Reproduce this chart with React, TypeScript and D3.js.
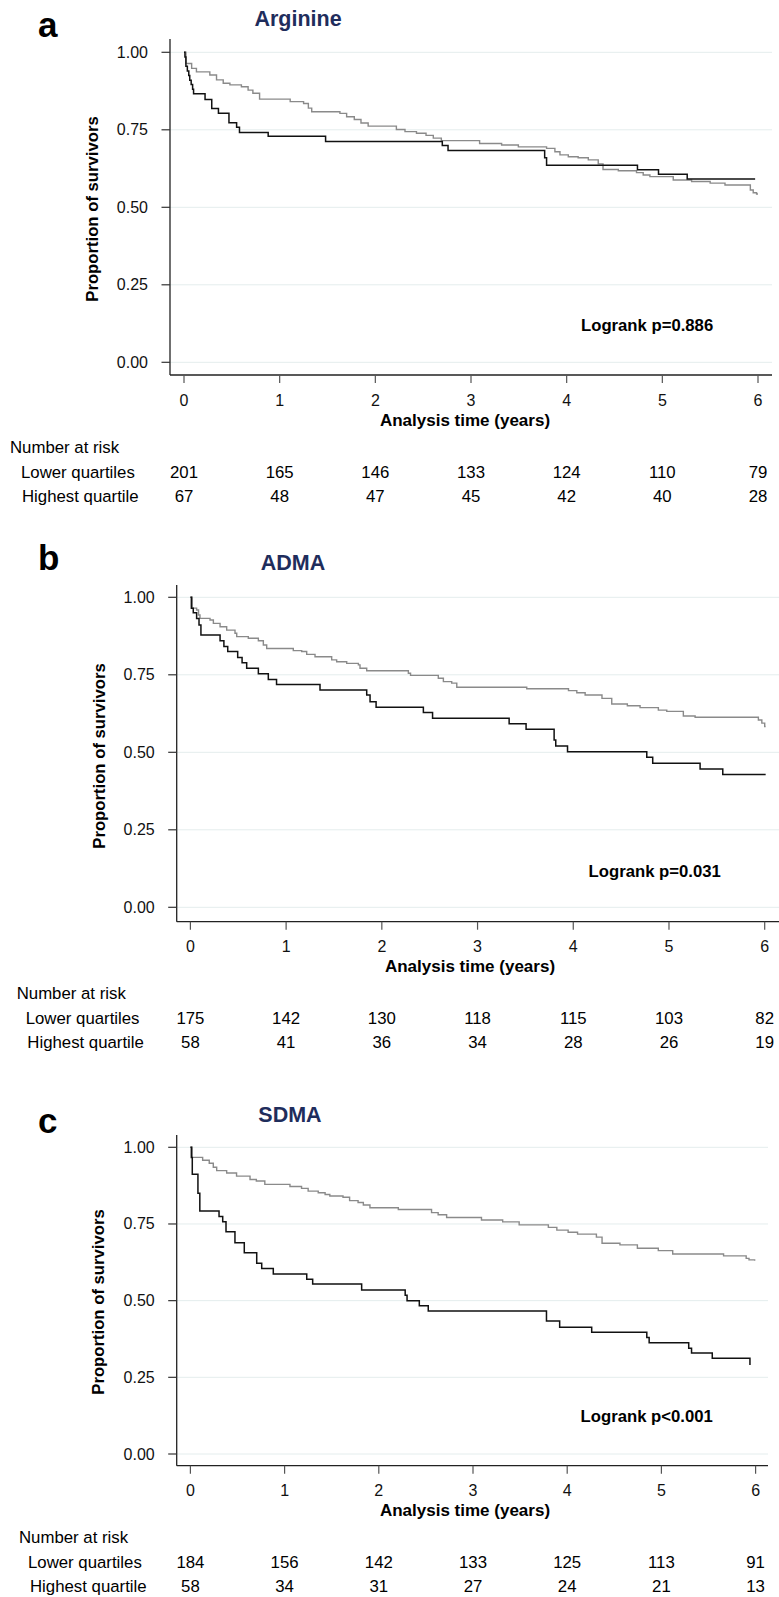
import React, { useRef, useEffect } from 'react';
import * as d3 from 'd3';

type Pt = [number, number];

// shared axis values
const years = [0, 1, 2, 3, 4, 5, 6];
const survTicks = [0, 0.25, 0.5, 0.75, 1];
const riskRowLabels = ['Lower quartiles', 'Highest quartile'];

// Arginine (time in years, survival after each drop)
const argLower: Pt[] = [[0, 1], [0.02, 0.964], [0.08, 0.948], [0.13, 0.937], [0.27, 0.927], [0.34, 0.911], [0.41, 0.9], [0.48, 0.895], [0.6, 0.889], [0.67, 0.878], [0.72, 0.868], [0.79, 0.849], [1.11, 0.841], [1.25, 0.835], [1.3, 0.82], [1.335, 0.808], [1.63, 0.803], [1.7, 0.792], [1.78, 0.783], [1.85, 0.772], [1.925, 0.762], [2.22, 0.751], [2.31, 0.744], [2.43, 0.739], [2.53, 0.732], [2.606, 0.723], [2.69, 0.715], [3.09, 0.706], [3.32, 0.701], [3.495, 0.695], [3.79, 0.69], [3.877, 0.679], [3.93, 0.669], [4.017, 0.663], [4.12, 0.66], [4.226, 0.653], [4.33, 0.64], [4.38, 0.622], [4.54, 0.618], [4.73, 0.612], [4.8, 0.604], [4.87, 0.599], [5.114, 0.588], [5.306, 0.583], [5.5, 0.578], [5.655, 0.572], [5.92, 0.556], [5.95, 0.547], [5.985, 0.543]];
const argHigh: Pt[] = [[0, 1], [0.01, 0.985], [0.02, 0.955], [0.035, 0.94], [0.05, 0.925], [0.06, 0.91], [0.075, 0.896], [0.09, 0.881], [0.1, 0.866], [0.22, 0.848], [0.29, 0.819], [0.36, 0.803], [0.47, 0.773], [0.55, 0.758], [0.58, 0.741], [0.88, 0.729], [1.48, 0.712], [2.7, 0.699], [2.76, 0.683], [3.77, 0.66], [3.79, 0.636], [4.74, 0.621], [4.96, 0.607], [5.26, 0.591]];
const argLowerEnd = 6.0;
const argHighEnd = 5.97;
const argRiskLower = [201, 165, 146, 133, 124, 110, 79];
const argRiskHigh = [67, 48, 47, 45, 42, 40, 28];

// ADMA
const admaLower: Pt[] = [[0, 1], [0.02, 0.965], [0.065, 0.959], [0.085, 0.943], [0.1, 0.932], [0.205, 0.927], [0.24, 0.916], [0.31, 0.905], [0.379, 0.894], [0.466, 0.884], [0.484, 0.873], [0.605, 0.868], [0.71, 0.86], [0.762, 0.846], [0.797, 0.835], [1.075, 0.828], [1.163, 0.825], [1.215, 0.816], [1.302, 0.808], [1.476, 0.798], [1.528, 0.792], [1.633, 0.787], [1.755, 0.782], [1.772, 0.771], [1.842, 0.763], [2.277, 0.755], [2.3, 0.748], [2.59, 0.739], [2.643, 0.728], [2.73, 0.723], [2.783, 0.71], [3.514, 0.705], [3.95, 0.699], [4.037, 0.692], [4.124, 0.685], [4.3, 0.674], [4.402, 0.656], [4.565, 0.65], [4.698, 0.644], [4.889, 0.636], [4.977, 0.632], [5.15, 0.617], [5.273, 0.613], [5.934, 0.604], [5.97, 0.594], [6.0, 0.583]];
const admaHigh: Pt[] = [[0, 1], [0.01, 0.965], [0.03, 0.95], [0.065, 0.932], [0.09, 0.911], [0.11, 0.878], [0.31, 0.86], [0.35, 0.841], [0.39, 0.825], [0.494, 0.806], [0.54, 0.789], [0.588, 0.771], [0.71, 0.753], [0.814, 0.735], [0.9, 0.719], [1.354, 0.701], [1.842, 0.685], [1.877, 0.663], [1.94, 0.645], [2.434, 0.628], [2.53, 0.61], [3.33, 0.592], [3.507, 0.574], [3.8, 0.54], [3.817, 0.52], [3.94, 0.502], [4.768, 0.484], [4.83, 0.465], [5.325, 0.446], [5.562, 0.428]];
const admaLowerEnd = 6.01;
const admaHighEnd = 6.01;
const admaRiskLower = [175, 142, 130, 118, 115, 103, 82];
const admaRiskHigh = [58, 41, 36, 34, 28, 26, 19];

// SDMA
const sdmaLower: Pt[] = [[0, 1], [0.02, 0.967], [0.13, 0.958], [0.2, 0.948], [0.243, 0.935], [0.279, 0.924], [0.385, 0.916], [0.49, 0.906], [0.633, 0.895], [0.7, 0.89], [0.79, 0.879], [1.057, 0.872], [1.18, 0.866], [1.25, 0.857], [1.357, 0.852], [1.43, 0.846], [1.48, 0.841], [1.62, 0.837], [1.69, 0.826], [1.78, 0.82], [1.836, 0.812], [1.906, 0.803], [2.207, 0.797], [2.56, 0.787], [2.63, 0.78], [2.72, 0.771], [3.09, 0.763], [3.315, 0.757], [3.49, 0.747], [3.8, 0.739], [3.89, 0.73], [4.01, 0.723], [4.11, 0.717], [4.31, 0.707], [4.37, 0.687], [4.56, 0.682], [4.745, 0.671], [4.967, 0.663], [5.12, 0.652], [5.66, 0.646], [5.9, 0.638], [5.93, 0.633], [5.99, 0.63]];
const sdmaHigh: Pt[] = [[0, 1], [0.01, 0.967], [0.02, 0.912], [0.08, 0.85], [0.1, 0.792], [0.304, 0.774], [0.343, 0.757], [0.378, 0.725], [0.473, 0.689], [0.572, 0.656], [0.704, 0.622], [0.757, 0.605], [0.88, 0.587], [1.235, 0.57], [1.298, 0.554], [1.818, 0.535], [2.28, 0.518], [2.3, 0.5], [2.43, 0.483], [2.525, 0.466], [3.78, 0.434], [3.92, 0.413], [4.26, 0.397], [4.845, 0.38], [4.87, 0.363], [5.29, 0.345], [5.32, 0.329], [5.54, 0.312], [5.94, 0.29]];
const sdmaLowerEnd = 5.99;
const sdmaHighEnd = 5.94;
const sdmaRiskLower = [184, 156, 142, 133, 125, 113, 91];
const sdmaRiskHigh = [58, 34, 31, 27, 24, 21, 13];

// layout for each panel
const panels = [
  {
    letter: 'a', title: 'Arginine', pval: 'Logrank p=0.886',
    lower: argLower, high: argHigh, lowerEnd: argLowerEnd, highEnd: argHighEnd,
    riskLower: argRiskLower, riskHigh: argRiskHigh,
    letterY: 37, titleX: 298, titleY: 26,
    axisX: 170, axisTop: 39, y1: 52.3, y0: 362.3, axisY: 375,
    x0: 184, x6: 758, right: 772,
    ylabX: 98, ylabY: 209, xlabX: 465,
    pX: 581, pY: 325,
    riskX: [10, 21, 22],
  },
  {
    letter: 'b', title: 'ADMA', pval: 'Logrank p=0.031',
    lower: admaLower, high: admaHigh, lowerEnd: admaLowerEnd, highEnd: admaHighEnd,
    riskLower: admaRiskLower, riskHigh: admaRiskHigh,
    letterY: 570, titleX: 293, titleY: 570,
    axisX: 176.7, axisTop: 585, y1: 597.3, y0: 907.3, axisY: 921.7,
    x0: 190.4, x6: 764.7, right: 779,
    ylabX: 105, ylabY: 756, xlabX: 470,
    pX: 588.6, pY: 871,
    riskX: [16.7, 25.7, 27.3],
  },
  {
    letter: 'c', title: 'SDMA', pval: 'Logrank p<0.001',
    lower: sdmaLower, high: sdmaHigh, lowerEnd: sdmaLowerEnd, highEnd: sdmaHighEnd,
    riskLower: sdmaRiskLower, riskHigh: sdmaRiskHigh,
    letterY: 1133, titleX: 290, titleY: 1121.7,
    axisX: 176.7, axisTop: 1135, y1: 1147.3, y0: 1454, axisY: 1465.7,
    x0: 190.4, x6: 755.6, right: 768,
    ylabX: 104, ylabY: 1302, xlabX: 465,
    pX: 580.6, pY: 1416.7,
    riskX: [19, 28, 30],
  },
];

const FONT = '"Liberation Sans", Arial, Helvetica, sans-serif';

export default function App() {
  const svgRef = useRef<SVGSVGElement>(null);

  useEffect(() => {
    const svg = d3.select(svgRef.current);
    svg.selectAll('*').remove();
    svg.append('rect').attr('width', 779).attr('height', 1597).attr('fill', '#fff');

    panels.forEach(p => {
      const g = svg.append('g').attr('font-family', FONT);
      const x = d3.scaleLinear().domain([0, 6]).range([p.x0, p.x6]);
      const y = d3.scaleLinear().domain([0, 1]).range([p.y0, p.y1]);

      // panel letter + title
      g.append('text').attr('x', 38).attr('y', p.letterY)
        .attr('font-size', 35).attr('font-weight', 'bold').attr('fill', '#000')
        .text(p.letter);
      g.append('text').attr('x', p.titleX).attr('y', p.titleY)
        .attr('text-anchor', 'middle').attr('font-size', 21.5).attr('font-weight', 'bold')
        .attr('fill', '#1f2d5c').text(p.title);

      // grid lines
      survTicks.forEach(t => {
        g.append('line')
          .attr('x1', p.axisX).attr('x2', p.right)
          .attr('y1', y(t)).attr('y2', y(t))
          .attr('stroke', '#e4eded').attr('stroke-width', 1);
      });

      // y axis
      g.append('line').attr('x1', p.axisX).attr('x2', p.axisX)
        .attr('y1', p.axisTop).attr('y2', p.axisY)
        .attr('stroke', '#222').attr('stroke-width', 1.3);
      survTicks.forEach(t => {
        g.append('line').attr('x1', p.axisX - 8.5).attr('x2', p.axisX)
          .attr('y1', y(t)).attr('y2', y(t))
          .attr('stroke', '#333').attr('stroke-width', 1.2);
        g.append('text').attr('x', p.axisX - 22).attr('y', y(t))
          .attr('text-anchor', 'end').attr('dominant-baseline', 'central')
          .attr('font-size', 16).attr('fill', '#111')
          .text(d3.format('.2f')(t));
      });
      g.append('text')
        .attr('transform', `translate(${p.ylabX},${p.ylabY}) rotate(-90)`)
        .attr('text-anchor', 'middle').attr('font-size', 16.7).attr('font-weight', 'bold')
        .attr('fill', '#000').text('Proportion of survivors');

      // x axis
      g.append('line').attr('x1', p.axisX).attr('x2', p.right)
        .attr('y1', p.axisY).attr('y2', p.axisY)
        .attr('stroke', '#222').attr('stroke-width', 1.3);
      years.forEach(t => {
        g.append('line').attr('x1', x(t)).attr('x2', x(t))
          .attr('y1', p.axisY).attr('y2', p.axisY + 8)
          .attr('stroke', '#555').attr('stroke-width', 1.2);
        g.append('text').attr('x', x(t)).attr('y', p.axisY + 25)
          .attr('text-anchor', 'middle').attr('dominant-baseline', 'central')
          .attr('font-size', 16).attr('fill', '#111').text(t);
      });
      g.append('text').attr('x', p.xlabX).attr('y', p.axisY + 45)
        .attr('text-anchor', 'middle').attr('dominant-baseline', 'central')
        .attr('font-size', 17).attr('font-weight', 'bold').attr('fill', '#000')
        .text('Analysis time (years)');

      // survival curves
      const line = d3.line<Pt>().x(d => x(d[0])).y(d => y(d[1])).curve(d3.curveStepAfter);
      const lowerPts: Pt[] = [...p.lower, [p.lowerEnd, p.lower[p.lower.length - 1][1]]];
      const highPts: Pt[] = [...p.high, [p.highEnd, p.high[p.high.length - 1][1]]];
      g.append('path').attr('d', line(lowerPts))
        .attr('fill', 'none').attr('stroke', '#8a8a8a').attr('stroke-width', 1.4);
      g.append('path').attr('d', line(highPts))
        .attr('fill', 'none').attr('stroke', '#111').attr('stroke-width', 1.5);

      // logrank text
      g.append('text').attr('x', p.pX).attr('y', p.pY)
        .attr('dominant-baseline', 'central')
        .attr('font-size', 16.7).attr('font-weight', 'bold').attr('fill', '#000')
        .text(p.pval);

      // number at risk table
      const rowY = [p.axisY + 72, p.axisY + 97, p.axisY + 121];
      g.append('text').attr('x', p.riskX[0]).attr('y', rowY[0])
        .attr('dominant-baseline', 'central').attr('font-size', 16.8).attr('fill', '#000')
        .text('Number at risk');
      [p.riskLower, p.riskHigh].forEach((vals, i) => {
        g.append('text').attr('x', p.riskX[i + 1]).attr('y', rowY[i + 1])
          .attr('dominant-baseline', 'central').attr('font-size', 16.8).attr('fill', '#000')
          .text(riskRowLabels[i]);
        vals.forEach((v, j) => {
          g.append('text').attr('x', x(years[j])).attr('y', rowY[i + 1])
            .attr('text-anchor', 'middle').attr('dominant-baseline', 'central')
            .attr('font-size', 16.8).attr('fill', '#000').text(v);
        });
      });
    });
  }, []);

  return (
    <svg
      ref={svgRef}
      width={779}
      height={1597}
      style={{ position: 'absolute', left: 0, top: 0, display: 'block' }}
    />
  );
}
